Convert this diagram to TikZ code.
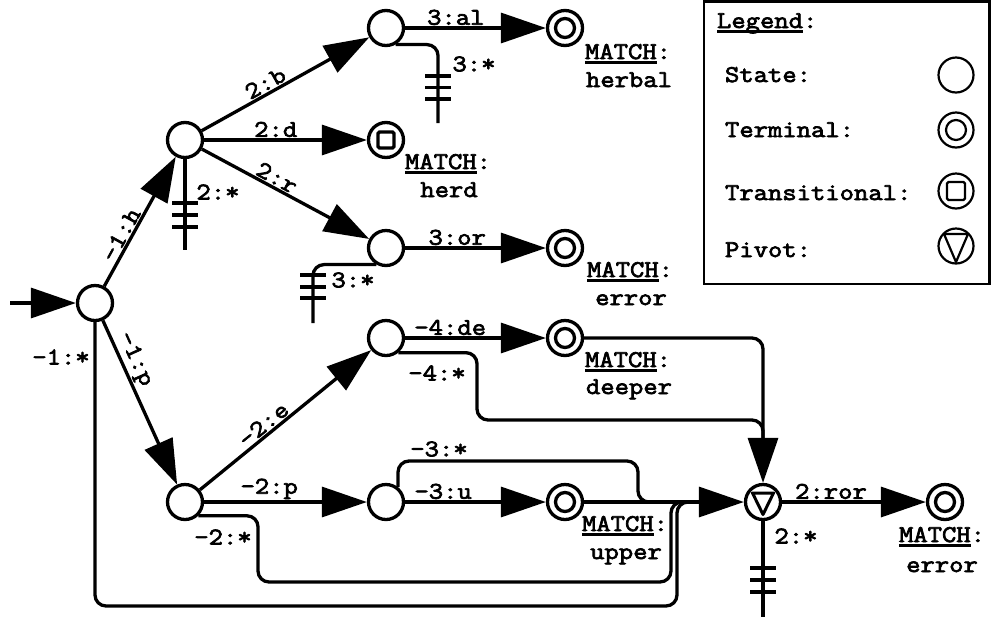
\documentclass[tikz,border=0pt]{standalone}
\usepackage{fontspec}
\newfontfamily\cfont{Latin Modern Mono}[FakeBold=3,FakeStretch=1.16]
\usetikzlibrary{arrows.meta,calc}
\newcommand\myul[1]{\setbox0\hbox{#1}\rlap{\rule[-4.6pt]{\wd0}{2.4pt}}\box0}
\newcommand\sx[1]{#1}
\begin{document}
\begin{tikzpicture}[x=1pt,y=-1pt,
  every node/.style={font=\fontsize{24}{29}\selectfont\cfont},
  st/.style={circle,draw,line width=3.3pt,minimum size=35pt,inner sep=0pt,fill=white},
  term/.style={st,path picture={\draw[line width=3.3pt] (path picture bounding box.center) circle (9.5pt);}},
  trans/.style={st,path picture={\draw[line width=3.3pt,rounded corners=1.5pt] ($(path picture bounding box.center)+(-8pt,-8pt)$) rectangle ($(path picture bounding box.center)+(8pt,8pt)$);}},
  piv/.style={st,path picture={\draw[line width=3pt,line join=round] ($(path picture bounding box.center)+(-10.5pt,9pt)$) -- ($(path picture bounding box.center)+(10.5pt,9pt)$) -- ($(path picture bounding box.center)+(0pt,-12.5pt)$) -- cycle;}},
  lg/.style={circle,draw,line width=2.2pt,minimum size=35pt,inner sep=0pt},
  lgterm/.style={lg,path picture={\draw[line width=2.2pt] (path picture bounding box.center) circle (10pt);}},
  lgtrans/.style={lg,path picture={\draw[line width=2.2pt,rounded corners=1.5pt] ($(path picture bounding box.center)+(-9pt,-9pt)$) rectangle ($(path picture bounding box.center)+(9pt,9pt)$);}},
  lgpiv/.style={lg,path picture={\draw[line width=2.2pt,line join=round] ($(path picture bounding box.center)+(-12pt,12pt)$) -- ($(path picture bounding box.center)+(12pt,12pt)$) -- ($(path picture bounding box.center)+(0pt,-16pt)$) -- cycle;}},
  ed/.style={line width=3.3pt,-{Triangle[length=45pt,width=30pt]}},
  ln/.style={line width=3.3pt,rounded corners=11pt},
  lab/.style={inner sep=3pt,outer sep=0pt},
  txt/.style={inner sep=0pt,outer sep=0pt},
  tk/.style={line width=3.3pt},
]
\useasboundingbox (0,0) rectangle (992,622);

% nodes
\node[st] (s0) at (95,303) {};
\node[st] (h) at (185,140) {};
\node[st] (hb) at (386,28) {};
\node[trans] (herd) at (386,140) {};
\node[st] (hr) at (386,248) {};
\node[term] (herbal) at (565,28) {};
\node[term] (err1) at (565,248) {};
\node[st] (pe) at (386,338) {};
\node[term] (deeper) at (565,338) {};
\node[st] (p) at (185,502) {};
\node[st] (pu) at (386,502) {};
\node[term] (upper) at (565,502) {};
\node[piv] (piv) at (763,502) {};
\node[term] (err2) at (945,502) {};

% free ends
\coordinate (in) at (10,303);
\coordinate (d0) at (185,250);
\coordinate (d1) at (438,123);
\coordinate (d2) at (313,323);
\coordinate (d3) at (763,617);
\coordinate (j1) at (705,502);
\coordinate (j2) at (700,502);
\coordinate (j3) at (668,502);
\coordinate (j4) at (763,450);

% dead ends
\draw[ln] (h.south) -- (d0);
\draw[ln] (hb.-60) -| (d1);
\draw[ln] (hr.-120) -| (d2);
\draw[ln] (piv.south) -- (d3);
\foreach \y in {203,215,227} \draw[tk] (172,\y) -- (198,\y);
\foreach \y in {76,87.5,99} \draw[tk] (425,\y) -- (451,\y);
\foreach \y in {275,287,298} \draw[tk] (300,\y) -- (326,\y);
\foreach \y in {568,580,592} \draw[tk] (750,\y) -- (776,\y);

% fallback paths
\draw[ln] (s0.south) -- (95,606) -- (677,606) -- (677,502) -- (j1);
\draw[ln] (p.-46) -| (258,582) -- (671,582) -- (671,502) -- (j2);
\draw[ln] (pu.51) |- (638,461) -- (638,502) -- (j3);
\draw[ln] (pe.-50) -| (477,420) -- (763,420) -- (j4);

% edges
\draw[ed] (in) -- (s0);
\draw[ed] (s0) -- node[lab,sloped,above,pos=.36]{\sx{-1:h}} (h);
\draw[ed] (s0) -- node[lab,sloped,above,pos=.27]{\sx{-1:p}} (p);
\draw[ed] (h) -- node[lab,sloped,above,pos=.41]{\sx{2:b}} (hb);
\draw[ed] (h) -- node[lab,above,pos=.44]{\sx{2:d}} (herd);
\draw[ed] (h) -- node[lab,sloped,above,pos=.42]{\sx{2:r}} (hr);
\draw[ed] (hb) -- node[lab,above,pos=.36]{\sx{3:al}} (herbal);
\draw[ed] (hr) -- node[lab,above,pos=.37]{\sx{3:or}} (err1);
\draw[ed] (p) -- node[lab,sloped,above,pos=.41]{\sx{-2:e}} (pe);
\draw[ed] (p) -- node[lab,above,pos=.4]{\sx{-2:p}} (pu);
\draw[ed] (pe) -- node[lab,above,pos=.32]{\sx{-4:de}} (deeper);
\draw[ed] (pu) -- node[lab,above,pos=.27]{\sx{-3:u}} (upper);
\draw[ed,rounded corners=11pt] (deeper.east) -| (piv.north);
\draw[ed] (upper) -- (piv);
\draw[ed] (piv) -- node[lab,above,pos=.34]{\sx{2:ror}} (err2);

% loose labels
\node[txt] (l1) at (61,357) {\sx{-1:*}};
\node[txt] (l2) at (223,537) {\sx{-2:*}};
\node[txt] (l3) at (437,373) {\sx{-4:*}};
\node[txt] (l4) at (439,449) {\sx{-3:*}};
\node[txt] (l5) at (218,192) {\sx{2:*}};
\node[txt] (l6) at (474,64) {\sx{3:*}};
\node[txt] (l7) at (353,280) {\sx{3:*}};
\node[txt] (l8) at (796,536) {\sx{2:*}};

% match labels
\node[txt,anchor=base west] (m1a) at (585,59) {\sx{\myul{MATCH}:}};
\node[txt,anchor=base] (m1b) at (629,87) {\sx{herbal}};
\node[txt,anchor=base west] (m2a) at (405,169) {\sx{\myul{MATCH}:}};
\node[txt,anchor=base] (m2b) at (449,197) {\sx{herd}};
\node[txt,anchor=base west] (m3a) at (587,277) {\sx{\myul{MATCH}:}};
\node[txt,anchor=base] (m3b) at (631,305) {\sx{error}};
\node[txt,anchor=base west] (m4a) at (585,367) {\sx{\myul{MATCH}:}};
\node[txt,anchor=base] (m4b) at (629,394) {\sx{deeper}};
\node[txt,anchor=base west] (m5a) at (582,531) {\sx{\myul{MATCH}:}};
\node[txt,anchor=base] (m5b) at (626,559) {\sx{upper}};
\node[txt,anchor=base] (m6a) at (942,542) {\sx{\myul{MATCH}:}};
\node[txt,anchor=base] (m6b) at (942,572) {\sx{error}};

% legend
\draw[line width=2.5pt] (704,1.5) rectangle (989.5,284);
\node[txt,anchor=base west] (lgt) at (717,28) {\sx{\myul{Legend}:}};
\node[txt,anchor=base west] (lg1) at (725,82) {\sx{State:}};
\node[txt,anchor=base west] (lg2) at (725,137) {\sx{Terminal:}};
\node[txt,anchor=base west] (lg3) at (725,200) {\sx{Transitional:}};
\node[txt,anchor=base west] (lg4) at (725,257) {\sx{Pivot:}};
\node[lg] (ls1) at (956,75) {};
\node[lgterm] (ls2) at (956,130) {};
\node[lgtrans] (ls3) at (956,191) {};
\node[lgpiv] (ls4) at (956,246) {};
\end{tikzpicture}
\end{document}
